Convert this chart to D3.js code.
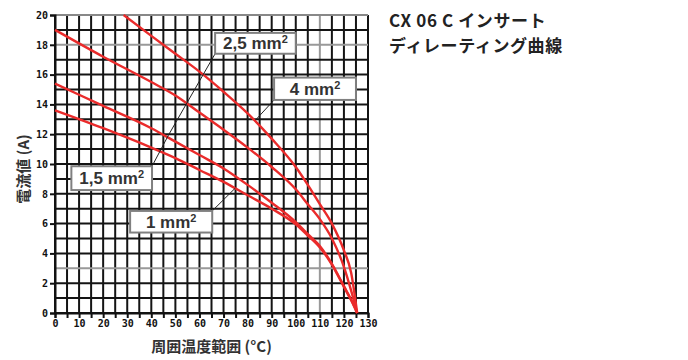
<!DOCTYPE html>
<html>
<head>
<meta charset="utf-8">
<script src="https://cdn.jsdelivr.net/npm/d3@7"></script>
<style>
  body { margin: 0; background: #fff; }
  svg { display: block; }
</style>
</head>
<body>
<div id="chart"></div>
<script>
// 데이터
var tempLabels = [0, 10, 20, 30, 40, 50, 60, 70, 80, 90, 100, 110, 120, 130];
var currentLabels = [0, 2, 4, 6, 8, 10, 12, 14, 16, 18, 20];

var temp_4 = [28.5, 40, 50, 60, 70, 80, 90, 100, 105, 110, 115, 120, 123, 125.5];
var curr_4 = [20, 18.6, 17.4, 16.2, 14.85, 13.4, 11.7, 9.8, 8.6, 7.3, 6.0, 4.2, 2.7, 0];

var temp_25 = [0, 20, 40, 50, 60, 70, 80, 90, 100, 105, 110, 115, 120, 123, 125.5];
var curr_25 = [19.0, 17.2, 15.5, 14.6, 13.45, 12.3, 11.1, 9.8, 8.3, 7.3, 6.3, 5.0, 3.1, 1.5, 0];

var temp_15 = [0, 20, 40, 50, 60, 70, 80, 90, 100, 105, 110, 115, 120, 123, 125.5];
var curr_15 = [15.4, 13.9, 12.4, 11.5, 10.6, 9.7, 8.6, 7.4, 6.1, 5.3, 4.5, 3.3, 1.8, 0.9, 0];

var temp_1 = [0, 20, 40, 50, 60, 70, 80, 90, 100, 105, 110, 115, 120, 123, 125.5];
var curr_1 = [13.6, 12.4, 11.1, 10.4, 9.6, 8.8, 7.9, 7.0, 5.95, 5.2, 4.4, 3.25, 1.75, 0.85, 0];

// 라벨(단면적) : 박스 [x1, x2, y상, y하] + 지시선 끝점
var labelNames = ["2,5 mm", "4 mm", "1,5 mm", "1 mm"];
var labelBoxes = [[66.5, 100, 18.8, 17.4], [91, 125, 15.8, 14.3], [6.8, 40.3, 9.85, 8.25], [31.2, 65.3, 6.85, 5.4]];
var leaderFrom = [[66.5, 17.4], [91, 14.3], [40.3, 9.85], [65.3, 6.85]];
var leaderTo = [[47, 11.9], [83.3, 12.95], [47, 11.9], [75, 8.4]];

var titleLines = ["CX 06 C インサート", "ディレーティング曲線"];

// Size 초기화
var W = 688, H = 360;
var margin = {top: 15, right: 320, bottom: 47, left: 55};
var width = W - margin.left - margin.right;
var height = H - margin.top - margin.bottom;

var svgRoot = d3.select("#chart").append("svg")
  .attr("width", W)
  .attr("height", H);

var svg = svgRoot.append("g")
  .attr("transform", "translate(" + margin.left + "," + margin.top + ")");

var x = d3.scaleLinear().domain([0, 130]).range([0, width]);
var y = d3.scaleLinear().domain([0, 20]).range([height, 0]);

// 그리드
var grid = svg.append("g").attr("class", "grid");
d3.range(0, 131, 5).forEach(function(v) {
  grid.append("line")
    .attr("x1", x(v)).attr("x2", x(v))
    .attr("y1", 0).attr("y2", height)
    .attr("stroke", v === 110 ? "#999" : "#141414")
    .attr("stroke-width", 2);
});
d3.range(0, 21, 1).forEach(function(v) {
  grid.append("line")
    .attr("x1", 0).attr("x2", width)
    .attr("y1", y(v)).attr("y2", y(v))
    .attr("stroke", (v === 3 || v === 18) ? "#999" : (v === 20 ? "#888" : "#141414"))
    .attr("stroke-width", 2);
});

// 축
var xAxis = d3.axisBottom(x).tickValues(d3.range(0, 131, 5)).tickSize(5)
  .tickFormat(function(d) { return tempLabels.indexOf(d) >= 0 ? d : ""; });
var yAxis = d3.axisLeft(y).tickValues(currentLabels).tickSize(5).tickPadding(2);

var gx = svg.append("g")
  .attr("transform", "translate(0," + height + ")")
  .call(xAxis);
var gy = svg.append("g").call(yAxis);

[gx, gy].forEach(function(g) {
  g.select(".domain").attr("stroke", "#111").attr("stroke-width", 2);
  g.selectAll(".tick line").attr("stroke", "#111").attr("stroke-width", 2);
  g.selectAll(".tick text")
    .attr("font-family", "'DejaVu Sans Mono', monospace")
    .attr("font-weight", "bold")
    .attr("font-size", 10)
    .attr("fill", "#111");
});
gx.selectAll(".tick text").attr("dy", "0.6em");

// 라인 차트
var drawLine = d3.line()
  .x(function(d) { return x(d[0]); })
  .y(function(d) { return y(d[1]); })
  .curve(d3.curveMonotoneX);

var series = [[temp_4, curr_4], [temp_25, curr_25], [temp_15, curr_15], [temp_1, curr_1]];
series.forEach(function(s) {
  var pts = s[0].map(function(t, i) { return [t, s[1][i]]; });
  svg.append("path")
    .datum(pts)
    .attr("d", drawLine)
    .attr("fill", "none")
    .attr("stroke", "#ea2b2b")
    .attr("stroke-width", 2.4);
});

// 지시선
labelNames.forEach(function(n, i) {
  svg.append("line")
    .attr("x1", x(leaderFrom[i][0])).attr("y1", y(leaderFrom[i][1]))
    .attr("x2", x(leaderTo[i][0])).attr("y2", y(leaderTo[i][1]))
    .attr("stroke", "#222")
    .attr("stroke-width", 1);
});

// 라벨 박스
labelNames.forEach(function(n, i) {
  var b = labelBoxes[i];
  var g = svg.append("g");
  g.append("rect")
    .attr("x", x(b[0])).attr("y", y(b[2]))
    .attr("width", x(b[1]) - x(b[0]))
    .attr("height", y(b[3]) - y(b[2]))
    .attr("fill", "#fff")
    .attr("stroke", "#808080")
    .attr("stroke-width", 2);
  var t = g.append("text")
    .attr("x", (x(b[0]) + x(b[1])) / 2)
    .attr("y", (y(b[2]) + y(b[3])) / 2)
    .attr("dy", "0.36em")
    .attr("text-anchor", "middle")
    .attr("font-family", "'Liberation Sans', Arial, sans-serif")
    .attr("font-weight", "bold")
    .attr("font-size", 17)
    .attr("fill", "#333")
    .text(n);
  t.append("tspan")
    .attr("font-size", 11)
    .attr("dy", "-0.55em")
    .text("2");
});

// 축 제목
svg.append("text")
  .attr("x", width / 2)
  .attr("y", height + 39)
  .attr("text-anchor", "middle")
  .attr("font-family", "'Noto Sans CJK JP', sans-serif")
  .attr("font-weight", "bold")
  .attr("font-size", 15)
  .attr("fill", "#333")
  .text("周囲温度範囲 (°C)");

svg.append("text")
  .attr("transform", "translate(-26," + (height / 2 + 5) + ") rotate(-90)")
  .attr("text-anchor", "middle")
  .attr("font-family", "'Noto Sans CJK JP', sans-serif")
  .attr("font-weight", "bold")
  .attr("font-size", 15)
  .attr("fill", "#333")
  .text("電流値 (A)");

// 제목
titleLines.forEach(function(s, i) {
  svgRoot.append("text")
    .attr("x", 389)
    .attr("y", 27 + i * 24.5)
    .attr("font-family", "'Noto Sans CJK JP', sans-serif")
    .attr("font-weight", "bold")
    .attr("font-size", 17)
    .attr("letter-spacing", 0.6)
    .attr("fill", "#222")
    .text(s);
});
</script>
</body>
</html>
